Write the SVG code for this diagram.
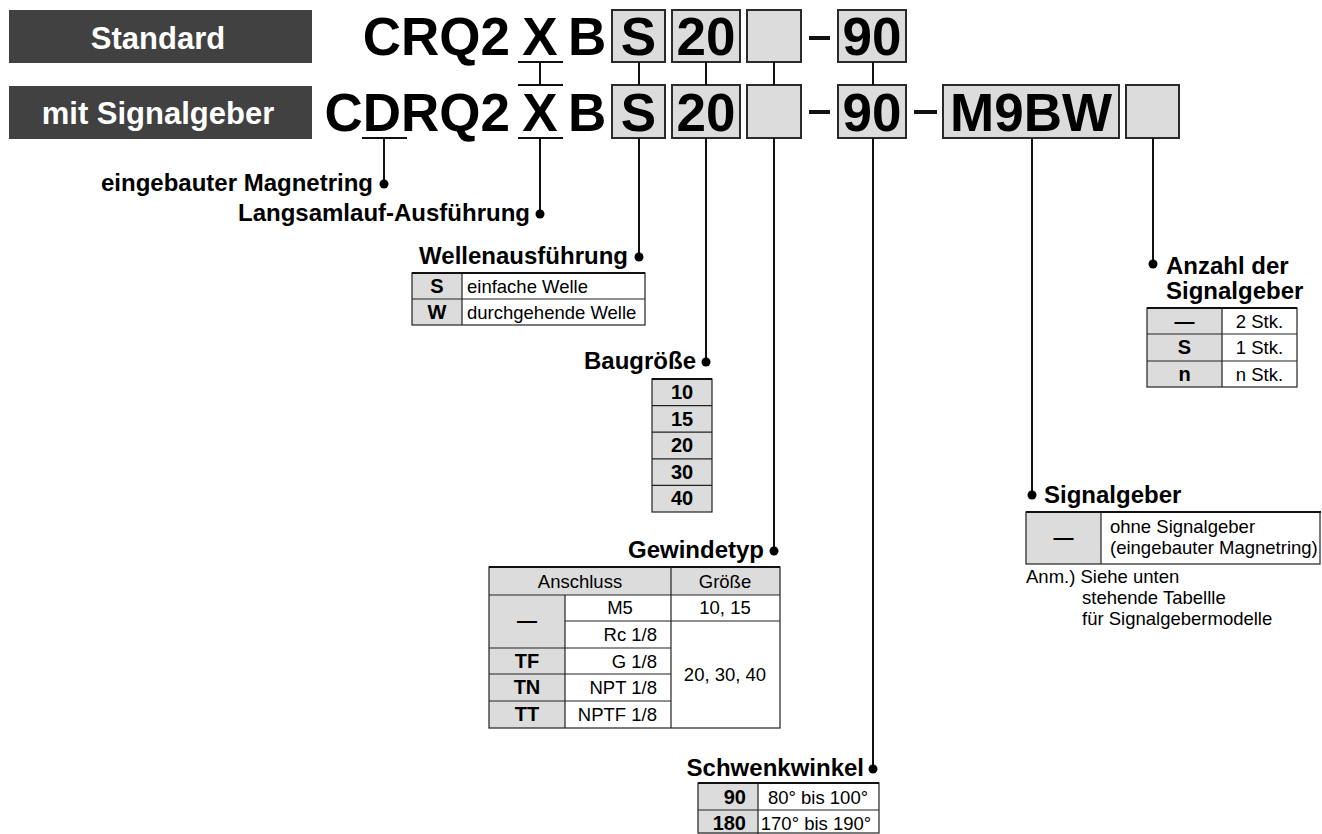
<svg xmlns="http://www.w3.org/2000/svg" width="1322" height="834" viewBox="0 0 1322 834">
<style>
.hdr{fill:#414141}
.hdrt{font-family:"Liberation Sans",Arial,sans-serif;font-weight:bold;font-size:31px;fill:#fff;text-anchor:middle}
.code{font-family:"Liberation Sans",Arial,sans-serif;font-weight:bold;font-size:53px;fill:#000}
.box{fill:#dcdcdc;stroke:#2a2a2a;stroke-width:2}
.lbl{font-family:"Liberation Sans",Arial,sans-serif;font-weight:bold;font-size:24px;fill:#000}
.k{font-family:"Liberation Sans",Arial,sans-serif;font-weight:bold;font-size:20px;fill:#000}
.t{font-family:"Liberation Sans",Arial,sans-serif;font-size:18.5px;fill:#000}
.m{text-anchor:middle}
.e{text-anchor:end}
.g{fill:#dcdcdc}
.w{fill:#fff}
.tl{stroke:#222;stroke-width:1.2;fill:none}
.tt{stroke:#111;stroke-width:2.2;fill:none}
.c{stroke:#111;stroke-width:2;fill:none}
.dot{fill:#000}
.dash{stroke:#111;stroke-width:4}
</style>

<g id="header-standard">
<rect class="hdr" x="9" y="10" width="303" height="53"/>
<text class="hdrt" x="158" y="49">Standard</text>
</g>
<g id="header-signal">
<rect class="hdr" x="9" y="86" width="303" height="53"/>
<text class="hdrt" x="158" y="124">mit Signalgeber</text>
</g>

<g id="code-standard">
<text class="code e" x="510" y="55">CRQ2</text>
<text class="code m" x="540" y="55">X</text>
<text class="code" x="568" y="55">B</text>
<rect class="box" x="612" y="10" width="53" height="52"/>
<text class="code m" x="638.5" y="55">S</text>
<rect class="box" x="672" y="10" width="68" height="52"/>
<text class="code m" x="706" y="55">20</text>
<rect class="box" x="747" y="10" width="54" height="52"/>
<line class="dash" x1="809" y1="38" x2="830" y2="38"/>
<rect class="box" x="838" y="10" width="68" height="52"/>
<text class="code m" x="872" y="55">90</text>
</g>

<g id="code-signal">
<text class="code e" x="510" y="131">CDRQ2</text>
<text class="code m" x="540" y="131">X</text>
<text class="code" x="568" y="131">B</text>
<rect class="box" x="612" y="85" width="53" height="53"/>
<text class="code m" x="638.5" y="131">S</text>
<rect class="box" x="672" y="85" width="68" height="53"/>
<text class="code m" x="706" y="131">20</text>
<rect class="box" x="747" y="85" width="54" height="53"/>
<line class="dash" x1="809" y1="112" x2="830" y2="112"/>
<rect class="box" x="838" y="85" width="68" height="53"/>
<text class="code m" x="872" y="131">90</text>
<line class="dash" x1="914" y1="112" x2="937" y2="112"/>
<rect class="box" x="943" y="85" width="176" height="53"/>
<text class="code m" x="1031" y="131">M9BW</text>
<rect class="box" x="1126" y="85" width="53" height="53"/>
</g>

<g id="connectors">
<line class="c" x1="518" y1="62" x2="563" y2="62"/>
<line class="c" x1="540" y1="62" x2="540" y2="85"/>
<line class="c" x1="518" y1="85" x2="563" y2="85"/>
<line class="c" x1="639" y1="62" x2="639" y2="85"/>
<line class="c" x1="706" y1="62" x2="706" y2="85"/>
<line class="c" x1="774" y1="62" x2="774" y2="85"/>
<line class="c" x1="873" y1="62" x2="873" y2="85"/>
<line class="c" x1="362" y1="138" x2="407" y2="138"/>
<line class="c" x1="384" y1="138" x2="384" y2="184"/>
<circle class="dot" cx="384" cy="184" r="4.5"/>
<line class="c" x1="518" y1="138" x2="563" y2="138"/>
<line class="c" x1="540" y1="138" x2="540" y2="214"/>
<circle class="dot" cx="540" cy="214" r="4.5"/>
<line class="c" x1="639" y1="138" x2="639" y2="257"/>
<circle class="dot" cx="639" cy="257" r="4.5"/>
<line class="c" x1="706" y1="138" x2="706" y2="362"/>
<circle class="dot" cx="706" cy="362" r="4.5"/>
<line class="c" x1="774" y1="138" x2="774" y2="551"/>
<circle class="dot" cx="774" cy="551" r="4.5"/>
<line class="c" x1="873" y1="138" x2="873" y2="769"/>
<circle class="dot" cx="873" cy="769" r="4.5"/>
<line class="c" x1="1032" y1="138" x2="1032" y2="495"/>
<circle class="dot" cx="1032" cy="495" r="4.5"/>
<line class="c" x1="1153" y1="138" x2="1153" y2="264"/>
<circle class="dot" cx="1153" cy="264" r="4.5"/>
</g>

<g id="magnetring">
<text class="lbl e" x="373" y="191">eingebauter Magnetring</text>
</g>
<g id="langsamlauf">
<text class="lbl e" x="530" y="221">Langsamlauf-Ausführung</text>
</g>

<g id="wellenausfuehrung">
<text class="lbl e" x="628" y="264">Wellenausführung</text>
<rect class="g" x="412" y="273" width="50" height="52"/>
<rect class="w" x="462" y="273" width="183" height="52"/>
<rect class="tl" x="412" y="273" width="233" height="52"/>
<line class="tt" x1="412" y1="273" x2="645" y2="273"/>
<line class="tl" x1="462" y1="273" x2="462" y2="325"/>
<line class="tl" x1="412" y1="299" x2="645" y2="299"/>
<text class="k m" x="437" y="293">S</text>
<text class="t" x="467" y="293">einfache Welle</text>
<text class="k m" x="437" y="319">W</text>
<text class="t" x="467" y="319">durchgehende Welle</text>
</g>

<g id="baugroesse">
<text class="lbl e" x="696" y="369">Baugröße</text>
<rect class="g" x="652" y="379" width="60" height="133"/>
<rect class="tl" x="652" y="379" width="60" height="133"/>
<line class="tt" x1="652" y1="379" x2="712" y2="379"/>
<line class="tl" x1="652" y1="405.6" x2="712" y2="405.6"/>
<line class="tl" x1="652" y1="432.2" x2="712" y2="432.2"/>
<line class="tl" x1="652" y1="458.8" x2="712" y2="458.8"/>
<line class="tl" x1="652" y1="485.4" x2="712" y2="485.4"/>
<text class="k m" x="682" y="399">10</text>
<text class="k m" x="682" y="426">15</text>
<text class="k m" x="682" y="452">20</text>
<text class="k m" x="682" y="479">30</text>
<text class="k m" x="682" y="505">40</text>
</g>

<g id="gewindetyp">
<text class="lbl e" x="764" y="558">Gewindetyp</text>
<rect class="g" x="489" y="567" width="291" height="28"/>
<rect class="g" x="489" y="595" width="76" height="133"/>
<rect class="w" x="565" y="595" width="215" height="133"/>
<rect class="tl" x="489" y="567" width="291" height="161"/>
<line class="tt" x1="489" y1="567" x2="780" y2="567"/>
<line class="tl" x1="489" y1="595" x2="780" y2="595"/>
<line class="tl" x1="671" y1="567" x2="671" y2="728"/>
<line class="tl" x1="565" y1="595" x2="565" y2="728"/>
<line class="tl" x1="565" y1="621" x2="780" y2="621"/>
<line class="tl" x1="489" y1="648" x2="671" y2="648"/>
<line class="tl" x1="489" y1="674" x2="671" y2="674"/>
<line class="tl" x1="489" y1="701" x2="671" y2="701"/>
<text class="t m" x="580" y="588">Anschluss</text>
<text class="t m" x="725" y="588">Größe</text>
<text class="t m" x="620" y="614">M5</text>
<text class="t m" x="725" y="614">10, 15</text>
<text class="k m" x="527" y="627">—</text>
<text class="t e" x="657" y="641">Rc 1/8</text>
<text class="t m" x="725" y="681">20, 30, 40</text>
<text class="k m" x="527" y="668">TF</text>
<text class="t e" x="657" y="668">G 1/8</text>
<text class="k m" x="527" y="694">TN</text>
<text class="t e" x="657" y="694">NPT 1/8</text>
<text class="k m" x="527" y="721">TT</text>
<text class="t e" x="657" y="721">NPTF 1/8</text>
</g>

<g id="schwenkwinkel">
<text class="lbl e" x="864" y="776">Schwenkwinkel</text>
<rect class="g" x="698" y="783" width="60" height="51"/>
<rect class="w" x="758" y="783" width="121" height="51"/>
<rect class="tl" x="698" y="783" width="181" height="50"/>
<line class="tt" x1="698" y1="783" x2="879" y2="783"/>
<line class="tl" x1="758" y1="783" x2="758" y2="834"/>
<line class="tl" x1="698" y1="810" x2="879" y2="810"/>
<text class="k e" x="746" y="804">90</text>
<text class="t m" x="818" y="804">80° bis 100°</text>
<text class="k e" x="746" y="830">180</text>
<text class="t m" x="816" y="830">170° bis 190°</text>
</g>

<g id="anzahl">
<text class="lbl" x="1166" y="274">Anzahl der</text>
<text class="lbl" x="1166" y="299">Signalgeber</text>
<rect class="g" x="1147" y="308" width="75" height="79"/>
<rect class="w" x="1222" y="308" width="75" height="79"/>
<rect class="tl" x="1147" y="308" width="150" height="79"/>
<line class="tt" x1="1147" y1="308" x2="1297" y2="308"/>
<line class="tl" x1="1222" y1="308" x2="1222" y2="387"/>
<line class="tl" x1="1147" y1="334" x2="1297" y2="334"/>
<line class="tl" x1="1147" y1="361" x2="1297" y2="361"/>
<text class="k m" x="1184.5" y="328">—</text>
<text class="t m" x="1259.5" y="328">2 Stk.</text>
<text class="k m" x="1184.5" y="354">S</text>
<text class="t m" x="1259.5" y="354">1 Stk.</text>
<text class="k m" x="1184.5" y="381">n</text>
<text class="t m" x="1259.5" y="381">n Stk.</text>
</g>

<g id="signalgeber">
<text class="lbl" x="1044" y="503">Signalgeber</text>
<rect class="g" x="1026" y="512" width="75" height="52"/>
<rect class="w" x="1101" y="512" width="219" height="52"/>
<rect class="tl" x="1026" y="512" width="294" height="52"/>
<line class="tt" x1="1026" y1="512" x2="1321" y2="512"/>
<line class="tl" x1="1101" y1="512" x2="1101" y2="564"/>
<text class="k m" x="1063.5" y="544">—</text>
<text class="t" x="1110" y="533">ohne Signalgeber</text>
<text class="t" x="1110" y="554">(eingebauter Magnetring)</text>
<text class="t" x="1026" y="583">Anm.) Siehe unten</text>
<text class="t" x="1082" y="604">stehende Tabellle</text>
<text class="t" x="1082" y="625">für Signalgebermodelle</text>
</g>
</svg>
